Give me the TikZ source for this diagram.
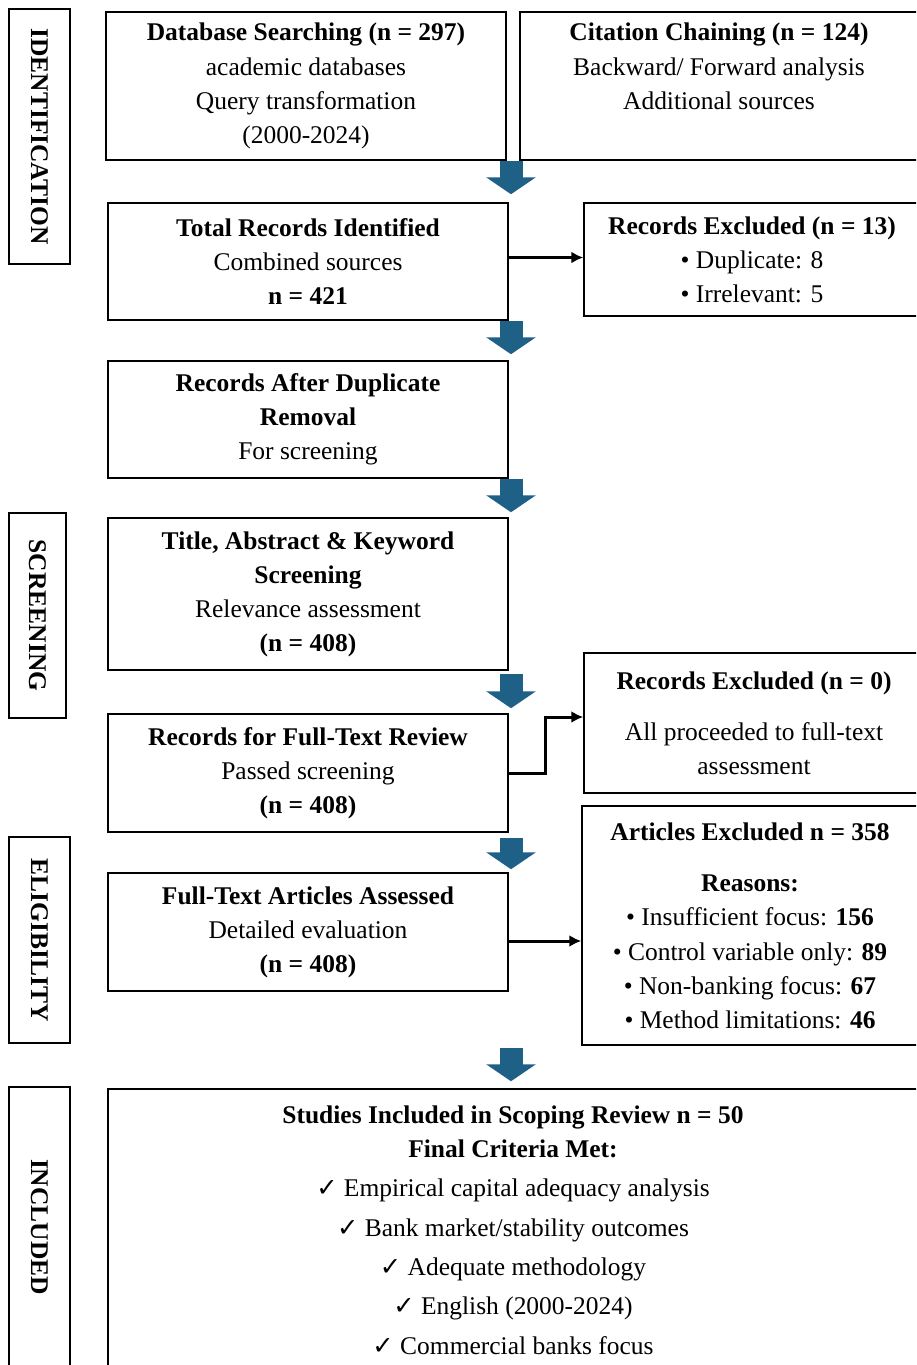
\documentclass[tikz,border=0pt]{standalone}
\usepackage{fontspec}
\setmainfont{Liberation Serif}
\newfontfamily\checkfont{DejaVu Sans}
\usetikzlibrary{arrows.meta}
\newcommand{\ck}{{\checkfont\fontsize{14.5}{17}\selectfont ✓}}

\begin{document}
\begin{tikzpicture}[font=\fontsize{14.5}{19.4}\selectfont]
\tikzstyle{box} = [draw, line width=0.85pt, align=center, inner sep=0pt]
\tikzstyle{side} = [box, rotate=-90, font=\fontsize{14.5}{19.4}\selectfont\bfseries]
\tikzstyle{arrow} = [line width=1.7pt, -{Latex[length=0.24cm,width=0.24cm]}]
\tikzstyle{bigarrow} = [draw=flowblue, line width=0.46cm, -{Triangle[length=0.34cm,width=0.98cm]}]
\definecolor{flowblue}{RGB}{30,96,134}

\useasboundingbox (0,0) rectangle (18.32,-27.3);
\clip (0,0) rectangle (18.32,-27.3);

% stage labels
\node[side, minimum width=5.1cm, minimum height=1.22cm] (S1) at (0.79,-2.73) {IDENTIFICATION};
\node[side, minimum width=4.1cm, minimum height=1.14cm] (S2) at (0.75,-12.31) {SCREENING};
\node[side, minimum width=4.12cm, minimum height=1.22cm] (S3) at (0.79,-18.8) {ELIGIBILITY};
\node[side, minimum width=5.6cm, minimum height=1.22cm] (S4) at (0.79,-24.54) {INCLUDED};

% nodes
\node[box, minimum width=8cm, minimum height=2.96cm] (A) at (6.12,-1.72)
  {\textbf{Database Searching (n = 297)}\\academic databases\\Query transformation\\(2000-2024)};
\node[box, minimum width=7.96cm, minimum height=2.96cm] (B) at (14.38,-1.72)
  {\textbf{Citation Chaining (n = 124)}\\Backward/ Forward analysis\\Additional sources\\\phantom{(2000-2024)}};
\node[box, minimum width=8cm, minimum height=2.34cm] (C) at (6.16,-5.23)
  {\textbf{Total Records Identified}\\Combined sources\\\textbf{n = 421}};
\node[box, minimum width=6.72cm, minimum height=2.26cm] (D) at (15.04,-5.19)
  {\textbf{Records Excluded (n = 13)}\\• Duplicate: 8\\• Irrelevant: 5};
\node[box, minimum width=8cm, minimum height=2.34cm] (E) at (6.16,-8.39)
  {\textbf{Records After Duplicate}\\\textbf{Removal}\\For screening};
\node[box, minimum width=8cm, minimum height=3.04cm] (F) at (6.16,-11.88)
  {\textbf{Title, Abstract \& Keyword}\\\textbf{Screening}\\Relevance assessment\\\textbf{(n = 408)}};
\node[box, minimum width=6.8cm, minimum height=2.8cm] (G) at (15.08,-14.46)
  {\textbf{Records Excluded (n = 0)}\\[9.7pt]All proceeded to full-text\\assessment};
\node[box, minimum width=8cm, minimum height=2.36cm] (H) at (6.16,-15.46)
  {\textbf{Records for Full-Text Review}\\Passed screening\\\textbf{(n = 408)}};
\node[box, minimum width=6.72cm, minimum height=4.78cm] (I) at (15.0,-18.51)
  {\textbf{Articles Excluded n = 358}\\[10pt]\textbf{Reasons:}\\• Insufficient focus: \textbf{156}\\• Control variable only: \textbf{89}\\• Non-banking focus: \textbf{67}\\• Method limitations: \textbf{46}};
\node[box, minimum width=8cm, minimum height=2.36cm] (J) at (6.16,-18.64)
  {\textbf{Full-Text Articles Assessed}\\Detailed evaluation\\\textbf{(n = 408)}};
\node[box, minimum width=16.2cm, minimum height=5.64cm] (K) at (10.26,-24.6)
  {\textbf{Studies Included in Scoping Review n = 50}\\\textbf{Final Criteria Met:}\\[3pt]
   \ck\ Empirical capital adequacy analysis\\[3pt]
   \ck\ Bank market/stability outcomes\\[3pt]
   \ck\ Adequate methodology\\[3pt]
   \ck\ English (2000-2024)\\[3pt]
   \ck\ Commercial banks focus};

% arrows
\coordinate (M) at (10.22,0);
\draw [bigarrow, shorten >=0.16cm] (A.south -| M) -- (C.north -| M);
\draw [bigarrow, shorten >=0.12cm] (C.south -| M) -- (E.north -| M);
\draw [bigarrow, shorten >=0.1cm] (E.south -| M) -- (F.north -| M);
\draw [bigarrow, shorten <=0.06cm, shorten >=0.1cm] (F.south -| M) -- (H.north -| M);
\draw [bigarrow, shorten <=0.1cm, shorten >=0.06cm] (H.south -| M) -- (J.north -| M);
\draw [bigarrow, shorten <=1.12cm, shorten >=0.14cm] (J.south -| M) -- (K.north -| M);

\draw [arrow] ([yshift=0.08cm]C.east) -- ([yshift=0.08cm]C.east -| D.west);
\draw [arrow] (H.east) -- ++(0.74,0) |- ([yshift=0.12cm]G.west);
\draw [arrow] ([yshift=-0.18cm]J.east) -- ([yshift=-0.18cm]J.east -| I.west);

\end{tikzpicture}
\end{document}
